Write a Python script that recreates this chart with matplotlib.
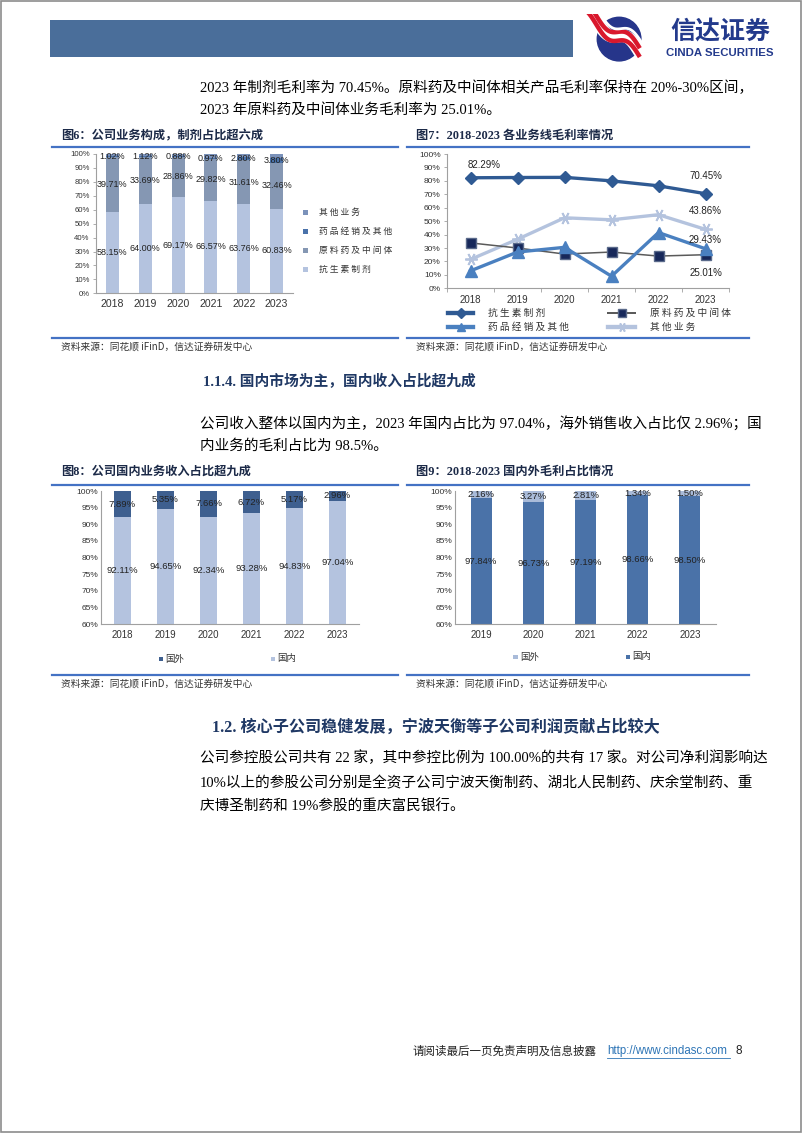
import numpy as np
import matplotlib
matplotlib.use("Agg")
import matplotlib.pyplot as plt
from matplotlib.lines import Line2D
from matplotlib.patches import Rectangle, Circle
from matplotlib.ticker import FuncFormatter, MultipleLocator

# ---------------- data ----------------
years6 = ["2018", "2019", "2020", "2021", "2022", "2023"]
kss_share = [58.15, 64.00, 69.17, 66.57, 63.76, 60.83]       # 抗生素制剂
yly_share = [39.71, 33.69, 28.86, 29.82, 31.61, 32.46]       # 原料药及中间体
ypjx_share = [1.02, 1.12, 0.88, 0.97, 2.80, 3.80]            # 药品经销及其他
qt_share = [1.12, 1.19, 1.09, 2.64, 1.83, 2.91]              # 其他业务

years7 = ["2018", "2019", "2020", "2021", "2022", "2023"]
kss_gm = [82.29, 82.5, 82.6, 80.0, 76.3, 70.45]
yly_gm = [33.8, 30.0, 25.5, 27.0, 24.0, 25.01]
ypjx_gm = [13.0, 27.0, 30.5, 9.0, 41.5, 29.43]
qt_gm = [21.5, 36.5, 52.5, 51.0, 54.8, 43.86]

years8 = ["2018", "2019", "2020", "2021", "2022", "2023"]
rev_foreign = [7.89, 5.35, 7.66, 6.72, 5.17, 2.96]
rev_domestic = [92.11, 94.65, 92.34, 93.28, 94.83, 97.04]

years9 = ["2019", "2020", "2021", "2022", "2023"]
gp_foreign = [2.16, 3.27, 2.81, 1.34, 1.50]
gp_domestic = [97.84, 96.73, 97.19, 98.66, 98.50]

# ---------------- helpers ----------------
W, H = 802, 1133
fig = plt.figure(figsize=(W / 100, H / 100), dpi=100)
fig.patch.set_facecolor("white")

CJK = ["Noto Sans CJK SC", "DejaVu Sans"]
SERIF = ["Liberation Serif", "Noto Sans CJK SC"]
NAVY = "#1F3864"
BLUE_LINE = "#4472C4"


def add_ax(x0, y0, x1, y1):
    return fig.add_axes([x0 / W, 1 - y1 / H, (x1 - x0) / W, (y1 - y0) / H])


def ftext(x, y, s, **kw):
    kw.setdefault("va", "center")
    return fig.text(x / W, 1 - y / H, s, **kw)


def hline(x0, x1, y, color, lw):
    fig.add_artist(Line2D([x0 / W, x1 / W], [1 - y / H, 1 - y / H],
                          color=color, lw=lw, transform=fig.transFigure))


def frect(x0, y0, x1, y1, **kw):
    fig.add_artist(Rectangle((x0 / W, 1 - y1 / H), (x1 - x0) / W, (y1 - y0) / H,
                             transform=fig.transFigure, **kw))


pct = FuncFormatter(lambda v, p: f"{v:.0f}%")

# page border
frect(0.5, 0.5, W - 1, H - 1, fill=False, ec="#8C8C8C", lw=1.2)

# ---------------- header ----------------
frect(50, 20, 573, 57, color="#4A6E9A", lw=0)

lax = add_ax(584, 14, 652, 62)
lax.set_xlim(-1.5, 1.5)
lax.set_ylim(-1.1, 1.1)
lax.set_aspect("equal")
lax.axis("off")
lax.add_patch(Circle((0.05, -0.05), 1.0, color="#26358A"))
tt = np.linspace(-1.45, 1.0, 120)
yy = -0.75 * tt + 0.28 * np.sin(np.pi * tt)
lax.plot(tt, yy + 0.08, color="white", lw=9, solid_capstyle="butt")
lax.plot(tt, yy + 0.28, color="#D9182D", lw=3.2, solid_capstyle="butt")
lax.plot(tt, yy - 0.12, color="#D9182D", lw=3.2, solid_capstyle="butt")
lax.plot(tt + 0.15, yy - 0.12 + 0.55, color="white", lw=2, solid_capstyle="butt")

ftext(720, 31.5, "信达证券", family=CJK, fontsize=18, fontweight="bold",
      color="#233A8C", ha="center")
ftext(720, 52.5, "CINDA SECURITIES", family=["Liberation Sans"], fontsize=8.2,
      fontweight="bold", color="#233A8C", ha="center")

# ---------------- body text ----------------
body_kw = dict(family=SERIF, fontsize=10.5, color="black", ha="left")
ftext(200, 88, "2023 年制剂毛利率为 70.45%。原料药及中间体相关产品毛利率保持在 20%-30%区间，", **body_kw)
ftext(200, 110, "2023 年原料药及中间体业务毛利率为 25.01%。", **body_kw)

ftext(203, 381, "1.1.4. 国内市场为主，国内收入占比超九成", family=SERIF, fontsize=10.6,
      fontweight="bold", color=NAVY, ha="left")
ftext(200, 423, "公司收入整体以国内为主，2023 年国内占比为 97.04%，海外销售收入占比仅 2.96%；国", **body_kw)
ftext(200, 446, "内业务的毛利占比为 98.5%。", **body_kw)

ftext(212, 728, "1.2. 核心子公司稳健发展，宁波天衡等子公司利润贡献占比较大", family=SERIF,
      fontsize=11.6, fontweight="bold", color=NAVY, ha="left")
ftext(200, 758, "公司参控股公司共有 22 家，其中参控比例为 100.00%的共有 17 家。对公司净利润影响达", **body_kw)
ftext(200, 783, "10%以上的参股公司分别是全资子公司宁波天衡制药、湖北人民制药、庆余堂制药、重", **body_kw)
ftext(200, 807, "庆博圣制药和 19%参股的重庆富民银行。", **body_kw)

# footer
ftext(412, 1051, "请阅读最后一页免责声明及信息披露", family=CJK, fontsize=8.3, color="#222222", ha="left")
ftext(607, 1051, "http://www.cindasc.com", family=["Liberation Sans"], fontsize=8.3,
      color="#2E75B6", ha="left")
hline(607, 730, 1058, "#2E75B6", 0.6)
ftext(736, 1051, "8", family=["Liberation Sans"], fontsize=8.5, color="#222222", ha="left")

# ---------------- figure frames ----------------
title_kw = dict(family=SERIF, fontsize=8.8, fontweight="bold", color="#1C2A48", ha="left")
src_kw = dict(family=CJK, fontsize=7, style="italic", color="#333333", ha="left")


def frame(x0, x1, ytitle, yline_top, yline_bot, ysrc, title):
    ftext(x0 + 9, ytitle, title, **title_kw)
    hline(x0, x1, yline_top, BLUE_LINE, 1.6)
    hline(x0, x1, yline_bot, BLUE_LINE, 1.6)
    ftext(x0 + 9, ysrc, "资料来源：同花顺 iFinD，信达证券研发中心", **src_kw)


frame(52, 398, 136, 147, 338, 347, "图6：公司业务构成，制剂占比超六成")
frame(407, 749, 136, 147, 338, 347, "图7：2018-2023 各业务线毛利率情况")
frame(52, 398, 472, 485, 675, 684, "图8：公司国内业务收入占比超九成")
frame(407, 749, 472, 485, 675, 684, "图9：2018-2023 国内外毛利占比情况")


def style_axes(ax, ylab_size=5.6, xlab_size=7.5):
    for s in ["top", "right"]:
        ax.spines[s].set_visible(False)
    for s in ["left", "bottom"]:
        ax.spines[s].set_color("#A0A0A0")
        ax.spines[s].set_linewidth(0.8)
    ax.tick_params(axis="y", length=2.5, width=0.6, color="#A0A0A0", pad=2,
                   labelsize=ylab_size, labelcolor="#333333")
    ax.tick_params(axis="x", length=0, pad=4, labelsize=xlab_size, labelcolor="#333333")
    for lab in ax.get_yticklabels() + ax.get_xticklabels():
        lab.set_family(["Liberation Sans"])
    ax.set_facecolor("none")


# ---------------- Figure 6 ----------------
ax6 = add_ax(96, 154, 293, 293.3)
x6 = np.arange(len(years6))
c_kss, c_yly, c_ypjx, c_qt = "#B4C3DF", "#8597B3", "#4A72AA", "#7B92BA"
b_kss = np.array(kss_share)
b_yly = b_kss + np.array(yly_share)
b_ypjx = b_yly + np.array(ypjx_share)
ax6.bar(x6, kss_share, width=0.4, color=c_kss, label="抗生素制剂")
ax6.bar(x6, yly_share, width=0.4, bottom=b_kss, color=c_yly, label="原料药及中间体")
ax6.bar(x6, ypjx_share, width=0.4, bottom=b_yly, color=c_ypjx, label="药品经销及其他")
ax6.bar(x6, qt_share, width=0.4, bottom=b_ypjx, color=c_qt, label="其他业务")
ax6.set_xlim(-0.5, 5.5)
ax6.set_ylim(0, 100)
ax6.yaxis.set_major_locator(MultipleLocator(10))
ax6.yaxis.set_major_formatter(pct)
ax6.set_xticks(x6, years6)
style_axes(ax6, 5.6, 7.6)
lab6 = dict(ha="center", va="center", fontsize=6.5, color="#222222", family=["Liberation Sans"])
for i in range(len(years6)):
    ax6.text(x6[i], kss_share[i] / 2, f"{kss_share[i]:.2f}%", **lab6)
    ax6.text(x6[i], b_kss[i] + yly_share[i] / 2, f"{yly_share[i]:.2f}%", **lab6)
    ax6.text(x6[i], b_yly[i] + ypjx_share[i] / 2, f"{ypjx_share[i]:.2f}%", **lab6)

leg6 = [("其他业务", c_qt, 212.3), ("药品经销及其他", c_ypjx, 231.7),
        ("原料药及中间体", c_yly, 250), ("抗生素制剂", c_kss, 269)]
for name, col, yy6 in leg6:
    frect(302.5, yy6 - 2.5, 307.5, yy6 + 2.5, color=col, lw=0)
    ftext(319, yy6, " ".join(name), family=CJK, fontsize=6.3, color="#333333", ha="left")

# ---------------- Figure 7 ----------------
ax7 = add_ax(447, 154, 729, 288.3)
x7 = np.arange(len(years7))
st_kss = dict(color="#2F5A93", lw=2.4, marker="D", ms=6.5, mfc="#2F5A93", mec="#2F5A93")
st_yly = dict(color="#5A5A5A", lw=1.1, marker="s", ms=7, mfc="#17285A", mec="#5A6A8A")
st_ypjx = dict(color="#4A80C0", lw=2.4, marker="^", ms=8, mfc="#4A80C0", mec="#4A80C0")
st_qt = dict(color="#B4C3DE", lw=2.4, marker=(6, 2, 90), ms=9, mew=1.3, mfc="#B4C3DE", mec="#B4C3DE")
ax7.plot(x7, qt_gm, **st_qt)
ax7.plot(x7, yly_gm, **st_yly)
ax7.plot(x7, ypjx_gm, **st_ypjx)
ax7.plot(x7, kss_gm, **st_kss)
ax7.set_xlim(-0.5, 5.5)
ax7.set_ylim(0, 100)
ax7.yaxis.set_major_locator(MultipleLocator(10))
ax7.yaxis.set_major_formatter(pct)
ax7.set_xticks(x7, years7)
ax7.set_xticks(np.arange(-0.5, 6.0, 1.0), minor=True)
style_axes(ax7, 6.0, 7.0)
ax7.tick_params(axis="x", which="minor", length=3, width=0.6, color="#A0A0A0")
ax7.tick_params(axis="x", pad=5)
ann = dict(textcoords="offset points", ha="center", va="center", fontsize=7,
           color="#222222", family=["Liberation Sans"])
ax7.annotate(f"{kss_gm[0]:.2f}%", (x7[0], kss_gm[0]), xytext=(10, 9), **ann)
ax7.annotate(f"{kss_gm[-1]:.2f}%", (x7[-1], kss_gm[-1]), xytext=(0, 12.7), **ann)
ax7.annotate(f"{qt_gm[-1]:.2f}%", (x7[-1], qt_gm[-1]), xytext=(0, 13.5), **ann)
ax7.annotate(f"{ypjx_gm[-1]:.2f}%", (x7[-1], ypjx_gm[-1]), xytext=(0, 6.3), **ann)
ax7.annotate(f"{yly_gm[-1]:.2f}%", (x7[-1], yly_gm[-1]), xytext=(0, -13), **ann)

leg7 = [("抗生素制剂", st_kss, 448, 473, 488, 312.7),
        ("原料药及中间体", st_yly, 608, 635, 650, 312.7),
        ("药品经销及其他", st_ypjx, 448, 473, 488, 327.3),
        ("其他业务", st_qt, 608, 635, 650, 327.3)]
for name, st, lx0, lx1, tx, ly in leg7:
    ln = Line2D([lx0 / W, lx1 / W], [1 - ly / H, 1 - ly / H], transform=fig.transFigure,
                color=st["color"], lw=st["lw"] * 1.3)
    fig.add_artist(ln)
    mk = Line2D([(lx0 + lx1) / 2 / W], [1 - ly / H], transform=fig.transFigure,
                ls="none", marker=st["marker"], ms=st["ms"] * 0.75, mfc=st["mfc"],
                mec=st["mec"], mew=st.get("mew", 1.0))
    fig.add_artist(mk)
    ftext(tx, ly, " ".join(name), family=CJK, fontsize=7, color="#333333", ha="left")

# ---------------- Figure 8 ----------------
ax8 = add_ax(101, 491, 359, 624.3)
x8 = np.arange(len(years8))
c8_dom, c8_for = "#B4C3DF", "#3E5F8F"
ax8.bar(x8, rev_domestic, width=0.4, color=c8_dom)
ax8.bar(x8, rev_foreign, width=0.4, bottom=rev_domestic, color=c8_for)
ax8.set_xlim(-0.5, 5.5)
ax8.set_ylim(60, 100)
ax8.yaxis.set_major_locator(MultipleLocator(5))
ax8.yaxis.set_major_formatter(pct)
ax8.set_xticks(x8, years8)
style_axes(ax8, 6.0, 7.0)
ax8.tick_params(axis="y", length=0)
lab8 = dict(ha="center", va="center", fontsize=6.8, color="#222222", family=["Liberation Sans"])
for i in range(len(years8)):
    ax8.text(x8[i], (60 + rev_domestic[i]) / 2, f"{rev_domestic[i]:.2f}%", **lab8)
    ax8.text(x8[i], rev_domestic[i] + rev_foreign[i] / 2, f"{rev_foreign[i]:.2f}%", **lab8)
frect(158.5, 656.5, 163, 661, color=c8_for, lw=0)
ftext(165, 659, "国外", family=CJK, fontsize=6.8, color="#333333", ha="left")
frect(270.5, 656.5, 275, 661, color=c8_dom, lw=0)
ftext(277, 659, "国内", family=CJK, fontsize=6.8, color="#333333", ha="left")

# ---------------- Figure 9 ----------------
ax9 = add_ax(455, 491, 716, 624.3)
x9 = np.arange(len(years9))
c9_dom, c9_for = "#4A72A8", "#A9BBD9"
ax9.bar(x9, gp_domestic, width=0.4, color=c9_dom)
ax9.bar(x9, gp_foreign, width=0.4, bottom=gp_domestic, color=c9_for)
ax9.set_xlim(-0.5, 4.5)
ax9.set_ylim(60, 100)
ax9.yaxis.set_major_locator(MultipleLocator(5))
ax9.yaxis.set_major_formatter(pct)
ax9.set_xticks(x9, years9)
style_axes(ax9, 6.0, 7.0)
ax9.tick_params(axis="y", length=0)
for i in range(len(years9)):
    ax9.text(x9[i], (60 + gp_domestic[i]) / 2, f"{gp_domestic[i]:.2f}%", **lab8)
    ax9.text(x9[i], gp_domestic[i] + gp_foreign[i] / 2, f"{gp_foreign[i]:.2f}%", **lab8)
frect(513, 654.5, 517.5, 659, color=c9_for, lw=0)
ftext(520, 657, "国外", family=CJK, fontsize=6.8, color="#333333", ha="left")
frect(625.5, 654.5, 630, 659, color=c9_dom, lw=0)
ftext(632, 657, "国内", family=CJK, fontsize=6.8, color="#333333", ha="left")

fig.savefig("out.png", dpi=100)
